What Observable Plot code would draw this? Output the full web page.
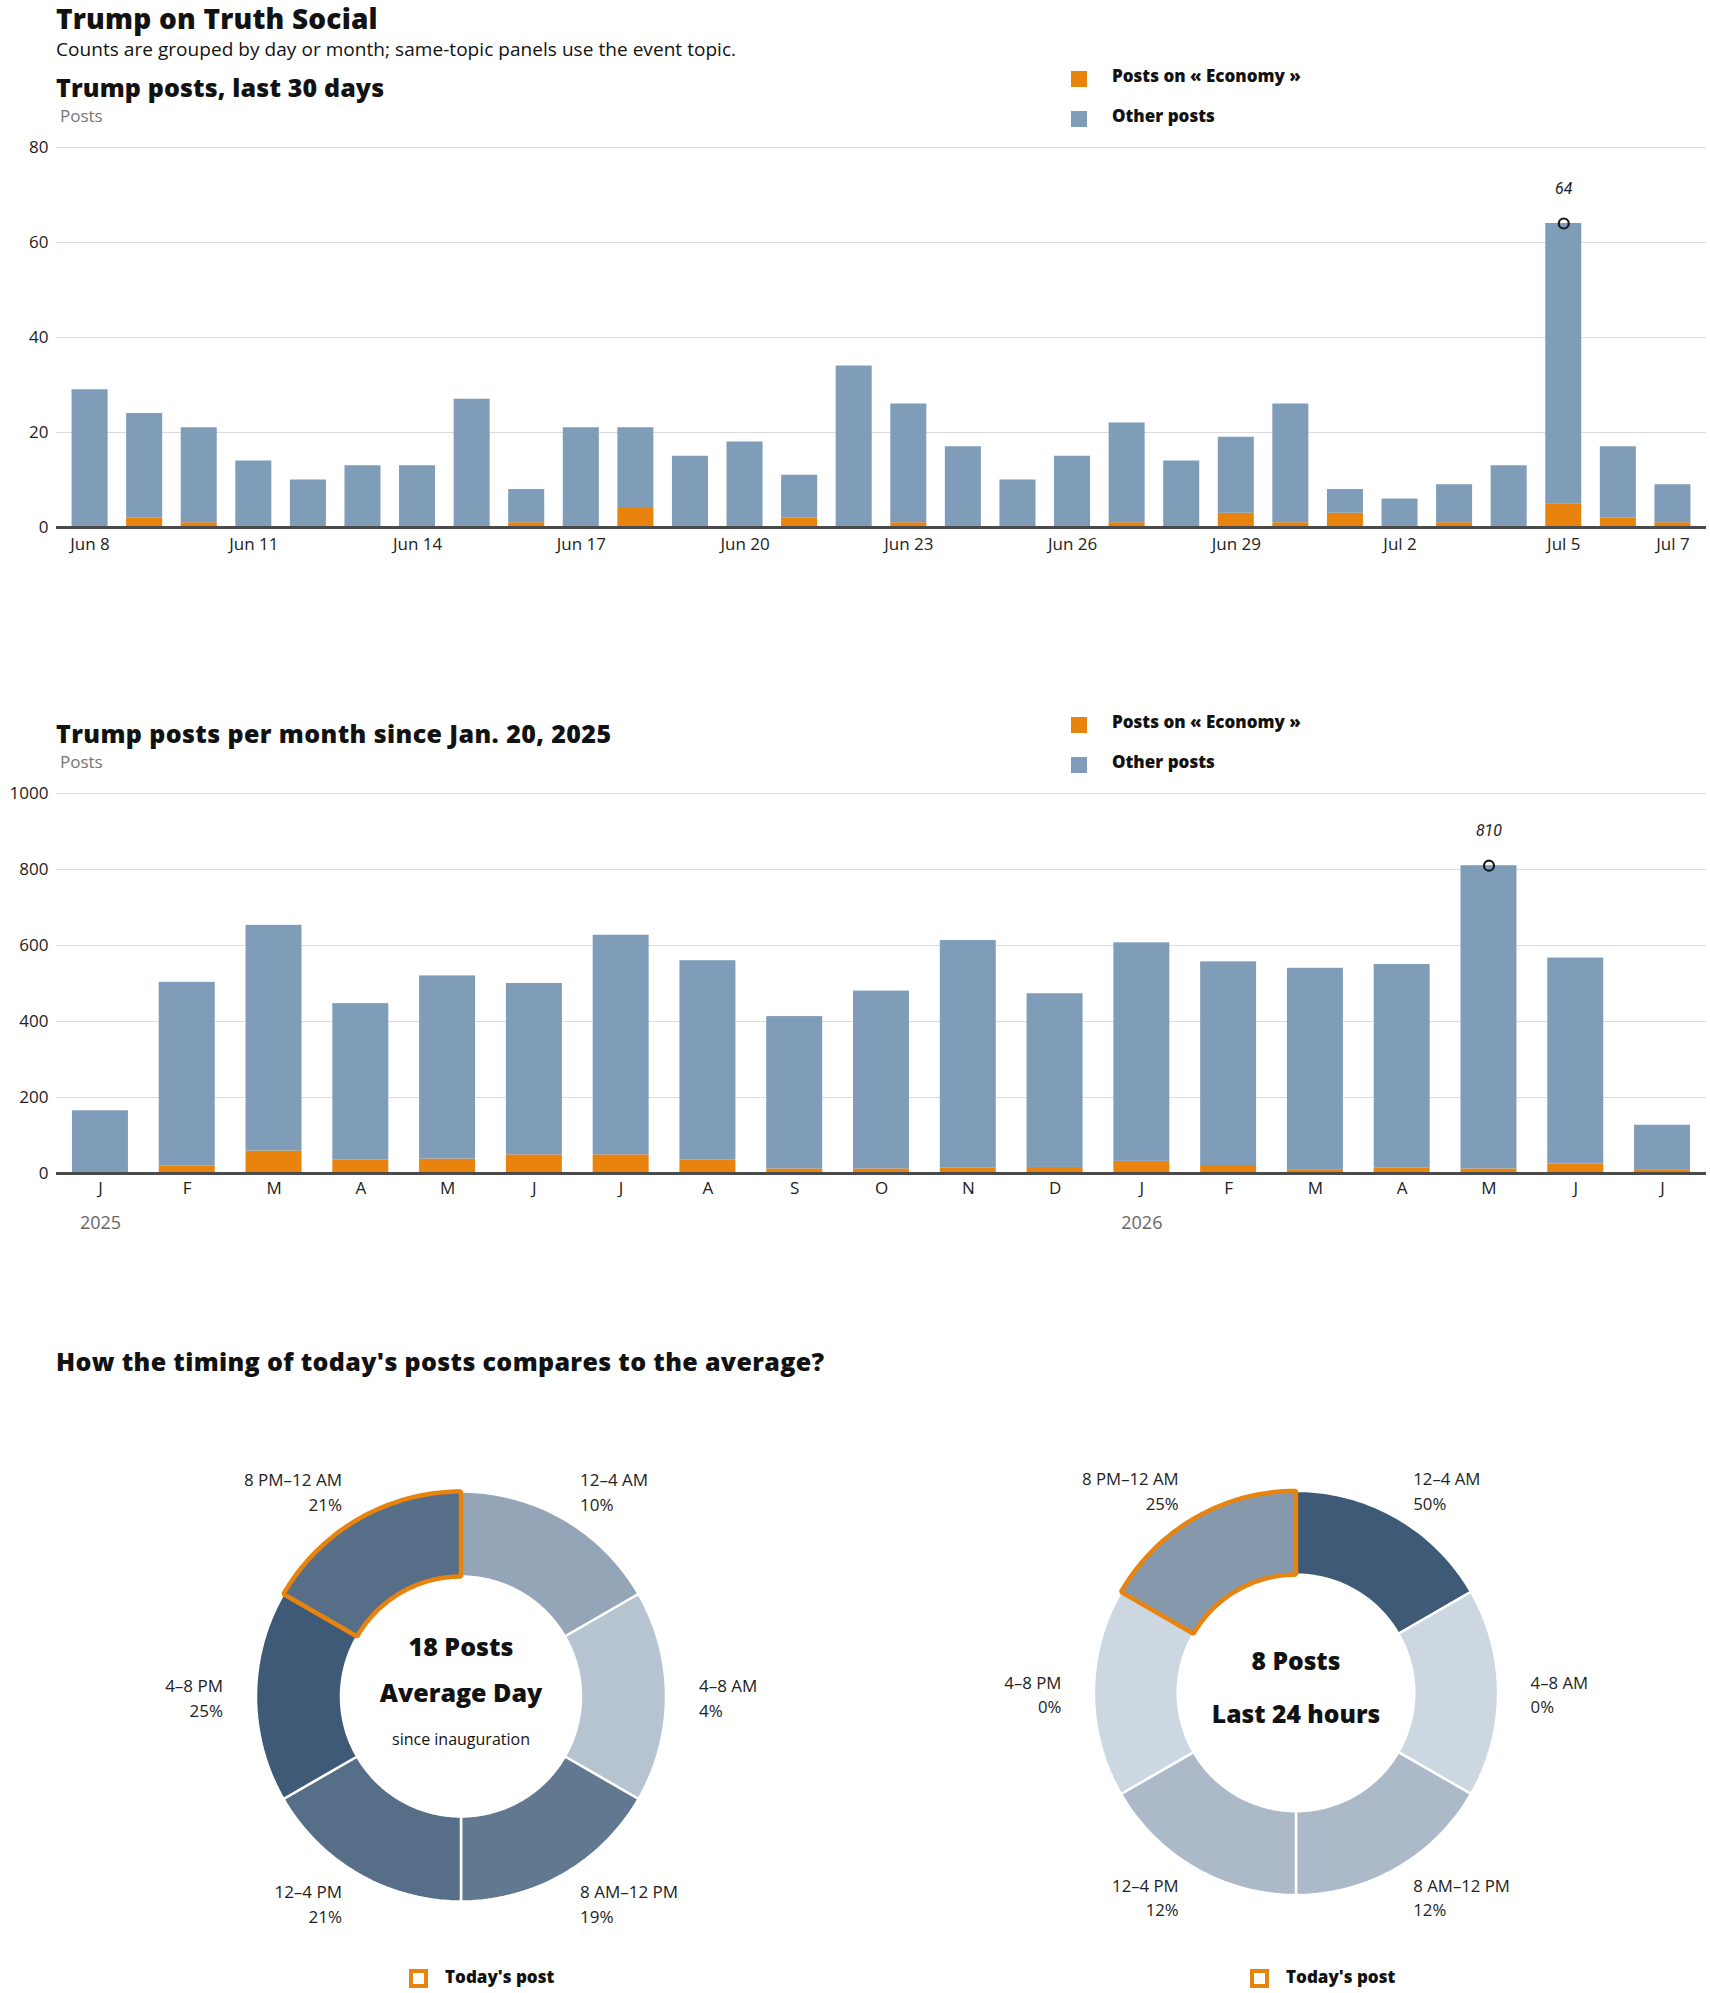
<!DOCTYPE html>
<html><head><meta charset="utf-8">
<script src="https://cdn.jsdelivr.net/npm/d3@7"></script>
<script src="https://cdn.jsdelivr.net/npm/@observablehq/plot@0.6"></script>
<style>
body{margin:0;background:#fff;font-family:"Open Sans",Roboto,sans-serif;color:#121212;}
#page{position:relative;width:1710px;height:1993px;overflow:hidden;}
.abs{position:absolute;white-space:nowrap;line-height:1;z-index:2;}
.t1{font-weight:800;font-size:28px;letter-spacing:0.2px;}
.sub{font-weight:400;font-size:19px;letter-spacing:0.05px;}
.h2{font-weight:800;font-size:25px;letter-spacing:0.15px;}
.axlab{font-size:17px;color:#767676;}
.leg{font-weight:800;font-size:17px;}
.sq{position:absolute;width:16px;height:16px;z-index:2;}
.sqo{position:absolute;width:19px;height:19px;box-sizing:border-box;border:4px solid #e8830e;z-index:2;}
.svgw{position:absolute;z-index:1;}
svg{overflow:visible;}
</style></head>
<body><div id="page"></div>
<script>
// ---------- data ----------
const days = ["Jun 8","Jun 9","Jun 10","Jun 11","Jun 12","Jun 13","Jun 14","Jun 15","Jun 16","Jun 17","Jun 18","Jun 19","Jun 20","Jun 21","Jun 22","Jun 23","Jun 24","Jun 25","Jun 26","Jun 27","Jun 28","Jun 29","Jun 30","Jul 1","Jul 2","Jul 3","Jul 4","Jul 5","Jul 6","Jul 7"];
const dailyTotal =   [29,24,21,14,10,13,13,27,8,21,21,15,18,11,34,26,17,10,15,22,14,19,26,8,6,9,13,64,17,9];
const dailyEconomy = [0,2,1,0,0,0,0,0,1,0,4,0,0,2,0,1,0,0,0,1,0,3,1,3,0,1,0,5,2,1];
const dayTicks = ["Jun 8","Jun 11","Jun 14","Jun 17","Jun 20","Jun 23","Jun 26","Jun 29","Jul 2","Jul 5","Jul 7"];
const dailyYTicks = [0,20,40,60,80];

const months = ["2025-01","2025-02","2025-03","2025-04","2025-05","2025-06","2025-07","2025-08","2025-09","2025-10","2025-11","2025-12","2026-01","2026-02","2026-03","2026-04","2026-05","2026-06","2026-07"];
const monthLabels = ["J","F","M","A","M","J","J","A","S","O","N","D","J","F","M","A","M","J","J"];
const monthlyTotal =   [165,503,653,447,520,500,627,560,413,480,613,473,607,557,540,550,810,567,127];
const monthlyEconomy = [0,20,59,36,38,49,49,35,12,12,15,16,32,21,10,14,12,25,10];
const monthlyYTicks = [0,200,400,600,800,1000];
const yearMonths = ["2025-01","2026-01"];
const yearNames = ["2025","2026"];

const slots = ["12–4 AM","4–8 AM","8 AM–12 PM","12–4 PM","4–8 PM","8 PM–12 AM"];
const avgShare = [10,4,19,21,25,21];
const todayShare = [50,0,12,12,0,25];
const todaySlot = "8 PM–12 AM";

const ORANGE = "#e8830e", BLUE = "#7f9db9";
const FONT = "'Open Sans', Roboto, sans-serif";

// ---------- helpers ----------
const page = document.getElementById("page");
function txt(text, x, baseline, cls, size, extra) {
  const d = document.createElement("div");
  d.className = "abs " + cls;
  d.textContent = text;
  d.style.left = x + "px";
  d.style.top = (baseline - 0.888 * size) + "px";
  if (extra) Object.assign(d.style, extra);
  page.appendChild(d);
  return d;
}
function square(x, y, color) {
  const d = document.createElement("div");
  d.className = "sq"; d.style.left = x + "px"; d.style.top = y + "px"; d.style.background = color;
  page.appendChild(d);
}
function placeSvg(svg, x, y) {
  const w = document.createElement("div");
  w.className = "svgw"; w.style.left = x + "px"; w.style.top = y + "px";
  w.appendChild(svg); page.appendChild(w);
}

function barChart({cats, total, econ, ticks, tickFormat, yMax, yTicks, pI, pO, tickPadding, marginBottom, extra}) {
  const rows = [];
  cats.forEach((c, i) => {
    rows.push({cat: c, group: "Economy", value: econ[i]});
    rows.push({cat: c, group: "Other", value: total[i] - econ[i]});
  });
  const mi = d3.maxIndex(total);
  const peak = [{cat: cats[mi], value: total[mi]}];
  return Plot.plot({
    width: 1710, height: 17 + 380 + marginBottom,
    marginLeft: 56, marginRight: 4, marginTop: 17, marginBottom,
    style: {fontFamily: FONT, fontSize: "17px", color: "#222", background: "none", overflow: "visible"},
    x: {domain: cats, paddingInner: pI, paddingOuter: pO, round: false, label: null, tickSize: 0, tickPadding, ticks, tickFormat},
    y: {domain: [0, yMax], ticks: yTicks, label: null, tickSize: 0, tickPadding: 8, tickFormat: d => String(d)},
    color: {domain: ["Economy", "Other"], range: [ORANGE, BLUE]},
    marks: [
      Plot.ruleY(yTicks, {stroke: "#dcdcdc", strokeWidth: 1.2}),
      Plot.barY(rows, {x: "cat", y: "value", fill: "group"}),
      Plot.ruleY([0], {stroke: "#4a4a4a", strokeWidth: 3}),
      Plot.dot(peak, {x: "cat", y: "value", r: 5, stroke: "#1a1a1a", strokeWidth: 2.2, fill: "none"}),
      Plot.text(peak, {x: "cat", y: "value", text: d => String(d.value), dy: -35, fontStyle: "italic", fontSize: 16, fill: "#222", fontFamily: "Roboto, sans-serif"}),
      ...(extra || [])
    ]
  });
}

// ---------- headings ----------
txt("Trump on Truth Social", 56, 29, "t1", 28);
txt("Counts are grouped by day or month; same-topic panels use the event topic.", 56, 57, "sub", 19);

// ---------- chart 1 ----------
txt("Trump posts, last 30 days", 56, 97, "h2", 25);
txt("Posts", 60, 122, "axlab", 17);
square(1071, 71, ORANGE); txt("Posts on « Economy »", 1112, 82, "leg", 17);
square(1071, 111, BLUE); txt("Other posts", 1112, 122, "leg", 17);
placeSvg(barChart({cats: days, total: dailyTotal, econ: dailyEconomy, ticks: dayTicks, tickFormat: d => d,
  yMax: 80, yTicks: dailyYTicks, pI: 0.34, pO: 0.285, tickPadding: 10, marginBottom: 40}), 0, 130);

// ---------- chart 2 ----------
txt("Trump posts per month since Jan. 20, 2025", 56, 743, "h2", 25, {letterSpacing: "0.4px"});
txt("Posts", 60, 768, "axlab", 17);
square(1071, 717, ORANGE); txt("Posts on « Economy »", 1112, 728, "leg", 17);
square(1071, 757, BLUE); txt("Other posts", 1112, 768, "leg", 17);
placeSvg(barChart({cats: months, total: monthlyTotal, econ: monthlyEconomy, ticks: months,
  tickFormat: d => monthLabels[months.indexOf(d)],
  yMax: 1000, yTicks: monthlyYTicks, pI: 0.355, pO: 0.184, tickPadding: 8, marginBottom: 75,
  extra: [Plot.text(yearMonths, {x: d => d, text: (d, i) => yearNames[i], frameAnchor: "bottom", dy: 55, fill: "#666", fontSize: 18})]
}), 0, 776);

// ---------- donuts ----------
txt("How the timing of today's posts compares to the average?", 56, 1371, "h2", 25, {letterSpacing: "0.35px"});

function donut(shares, centerLines) {
  const W = 841, H = 500, R = 205, r = 120, L = 238, N = 40;
  const step = 360 / slots.length;
  const pts = [];
  slots.forEach((s, i) => {
    const a0 = i * step, a1 = (i + 1) * step;
    for (let k = 0; k <= N; k++) { const a = (a0 + (a1 - a0) * k / N) * Math.PI / 180; pts.push({slot: s, share: shares[i], x: R * Math.sin(a), y: R * Math.cos(a)}); }
    for (let k = N; k >= 0; k--) { const a = (a0 + (a1 - a0) * k / N) * Math.PI / 180; pts.push({slot: s, share: shares[i], x: r * Math.sin(a), y: r * Math.cos(a)}); }
  });
  const labs = slots.map((s, i) => {
    const a = (i + 0.5) * step * Math.PI / 180;
    return {slot: s, share: shares[i], x: L * Math.sin(a), y: L * Math.cos(a), right: Math.sin(a) > 0};
  });
  const lab = d => `${d.slot}\n${d.share}%`;
  return Plot.plot({
    width: W, height: H, margin: 0,
    style: {fontFamily: FONT, fontSize: "17px", color: "#222", background: "none", overflow: "visible"},
    x: {domain: [-W / 2, W / 2], axis: null},
    y: {domain: [-H / 2, H / 2], axis: null},
    color: {type: "linear", domain: [0, d3.max(shares)], range: ["#cdd7e2", "#3f5a76"], interpolate: "rgb"},
    marks: [
      Plot.line(pts, {x: "x", y: "y", z: "slot", fill: "share", stroke: "white", strokeWidth: 2.5, curve: "linear-closed"}),
      Plot.line(pts.filter(d => d.slot === todaySlot), {x: "x", y: "y", stroke: ORANGE, strokeWidth: 4.5, fill: "none", curve: "linear-closed", strokeLinejoin: "miter"}),
      Plot.text(labs.filter(d => d.right), {x: "x", y: "y", text: lab, textAnchor: "start", lineHeight: 1.47, fill: "#222"}),
      Plot.text(labs.filter(d => !d.right), {x: "x", y: "y", text: lab, textAnchor: "end", lineHeight: 1.47, fill: "#222"}),
      ...centerLines.map(c => Plot.text([c.text], {frameAnchor: "middle", text: d => d, dy: c.dy, fontSize: c.size, fontWeight: c.weight, fill: "#121212"}))
    ]
  });
}
placeSvg(donut(avgShare, [
  {text: "18 Posts", dy: -49, size: 25, weight: 800},
  {text: "Average Day", dy: -3, size: 25, weight: 800},
  {text: "since inauguration", dy: 43, size: 16, weight: 400}
]), 40, 1446);
placeSvg(donut(todayShare, [
  {text: "8 Posts", dy: -31, size: 25, weight: 800},
  {text: "Last 24 hours", dy: 23, size: 25, weight: 800}
]), 881, 1446);

function todayLegend(x) {
  const d = document.createElement("div");
  d.className = "sqo"; d.style.left = x + "px"; d.style.top = "1969px";
  page.appendChild(d);
  txt("Today's post", x + 36, 1983, "leg", 17);
}
todayLegend(409);
todayLegend(1250);
</script>
</body></html>
